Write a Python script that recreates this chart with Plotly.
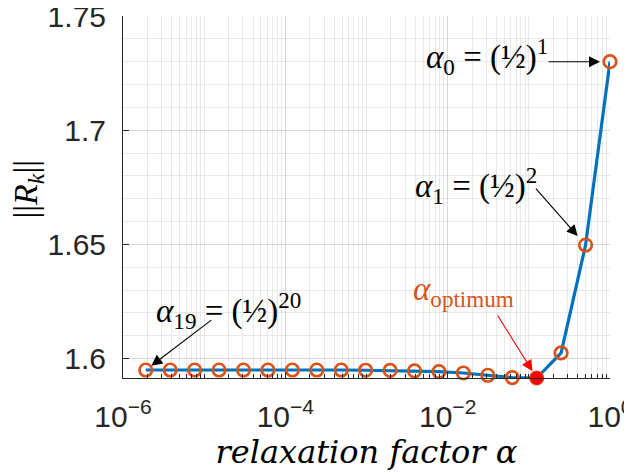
import math
import plotly.graph_objects as go

# relaxation factor alpha_k = (1/2)^k values on the x axis (k = 0..19)
alpha = [1.0, 0.5, 0.25, 0.125, 0.0625, 0.03125, 0.015625, 0.0078125,
         0.00390625, 0.001953125, 9.765625e-4, 4.8828125e-4, 2.44140625e-4,
         1.220703125e-4, 6.103515625e-5, 3.0517578125e-5, 1.52587890625e-5,
         7.62939453125e-6, 3.814697265625e-6, 1.9073486328125e-6]
Rk = [1.7300, 1.6497, 1.6025, 1.5915, 1.5917, 1.5927, 1.5937, 1.5943,
      1.5946, 1.5948, 1.5949, 1.5950, 1.5950, 1.5950, 1.5950, 1.5950,
      1.5950, 1.5950, 1.5950, 1.5950]
opt_index = 3

x_tickvals = [1e-6, 1e-4, 1e-2, 1]
x_ticktext = ["10<sup>\u22126</sup>", "10<sup>\u22124</sup>", "10<sup>\u22122</sup>", "10<sup>0</sup>"]
y_tickvals = [1.6, 1.65, 1.7, 1.75]
y_ticktext = ["1.6", "1.65", "1.7", "1.75"]
x_minor = [m * 10.0 ** e for e in range(-6, 0) for m in range(1, 10)
           if not (m == 1 and e in (-6, -4, -2))]

BLUE = "#0072BD"
ORANGE = "#D95319"
AXC = "#262626"
SERIF = "Liberation Serif"
SANS = "Liberation Sans"

fig = go.Figure()
fig.add_trace(go.Scatter(
    x=alpha, y=Rk, mode="lines+markers",
    line=dict(color=BLUE, width=3.2),
    marker=dict(symbol="circle-open", size=12.5, color=ORANGE, line=dict(width=2.7, color=ORANGE)),
    cliponaxis=False, showlegend=False))
fig.add_trace(go.Scatter(
    x=[alpha[opt_index]], y=[Rk[opt_index]], mode="markers",
    marker=dict(symbol="circle", size=13, color="#FF0000"),
    cliponaxis=False, showlegend=False))

# the page body adds an 8px offset, so the figure is 8px smaller and margins compensate
fig.update_layout(
    width=624, height=466,
    margin=dict(l=115, r=22, t=8, b=96),
    paper_bgcolor="white", plot_bgcolor="white",
    font=dict(family=SANS, color=AXC, size=30),
    xaxis=dict(
        type="log", range=[-6, 0], automargin=False,
        tickvals=x_tickvals, ticktext=x_ticktext, ticklabeloverflow="allow",
        ticks="inside", ticklen=6, tickcolor=AXC,
        showline=True, linecolor=AXC, linewidth=1, mirror=False,
        showgrid=True, gridcolor="#d6d6d6", gridwidth=1, zeroline=False,
        tickfont=dict(family=SANS, size=30, color=AXC),
        ticklabelstandoff=12,
        minor=dict(tickvals=x_minor, ticks="inside", ticklen=4, tickcolor=AXC,
                   showgrid=True, gridcolor="#e8e8e8", gridwidth=1),
        title=dict(text="<i>relaxation factor \u03b1</i>",
                   font=dict(family="DejaVu Serif", size=32, color="#000000"), standoff=6),
    ),
    yaxis=dict(
        range=[1.5915, 1.75], automargin=False,
        tickvals=y_tickvals, ticktext=y_ticktext, ticklabeloverflow="allow",
        ticks="inside", ticklen=6, tickcolor=AXC,
        showline=True, linecolor=AXC, linewidth=1, mirror=False,
        showgrid=True, gridcolor="#d6d6d6", gridwidth=1, zeroline=False,
        tickfont=dict(family=SANS, size=30, color=AXC),
        ticklabelstandoff=10,
        minor=dict(dtick=0.01, showgrid=True, gridcolor="#e8e8e8", gridwidth=1),
    ),
)

# y-axis title as a rotated annotation for precise placement
fig.add_annotation(text="||<i>R<sub>k</sub></i>||", textangle=-90,
                   xref="paper", yref="paper", x=-0.196, y=0.5,
                   xanchor="center", yanchor="middle", showarrow=False, yshift=8,
                   font=dict(family=SERIF, size=34, color="#000000"))

half = "\u00bd"
labels = [
    # (index, text, xshift, yshift, color)
    (0, "<i>\u03b1</i><sub>0</sub> = (" + half + ")<sup>1</sup>", -123, 5, "#000000"),
    (1, "<i>\u03b1</i><sub>1</sub> = (" + half + ")<sup>2</sup>", -110, 60, "#000000"),
    (19, "<i>\u03b1</i><sub>19</sub> = (" + half + ")<sup>20</sup>", 83, 60, "#000000"),
    (opt_index, "<i>\u03b1</i><sub>optimum</sub>", -73, 87, ORANGE),
]
for idx, txt, xs, ys, col in labels:
    fig.add_annotation(x=math.log10(alpha[idx]), y=Rk[idx], xref="x", yref="y",
                       text=txt, showarrow=False, xshift=xs, yshift=ys,
                       font=dict(family=SERIF, size=33, color=col))

arrows = [
    # (index, ax, ay, standoff, color)
    (0, -63, 0, 10, "#000000"),
    (1, -51, -58, 12, "#000000"),
    (19, 67, -51, 7, "#000000"),
    (opt_index, -40, -64, 8, "#FF0000"),
]
for idx, axp, ayp, so, col in arrows:
    fig.add_annotation(x=math.log10(alpha[idx]), y=Rk[idx], xref="x", yref="y",
                       text="", showarrow=True, ax=axp, ay=ayp,
                       arrowhead=2, arrowsize=2.0, arrowwidth=1.1,
                       arrowcolor=col, standoff=so)

fig.write_html("out.html")
